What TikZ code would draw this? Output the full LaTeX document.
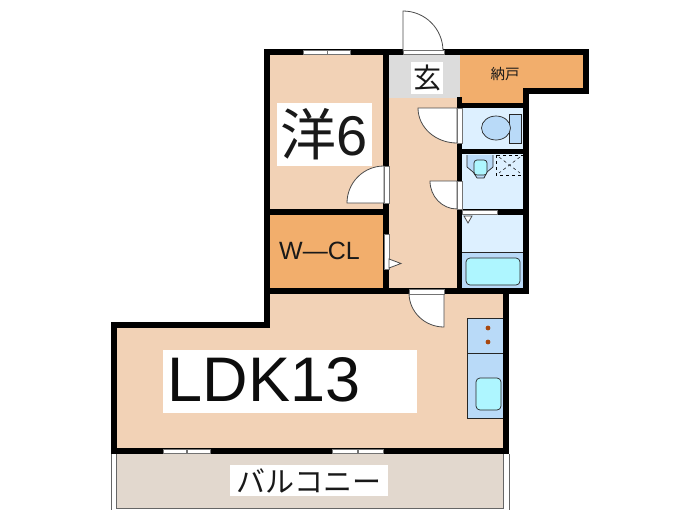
\documentclass[tikz,border=0pt]{standalone}
\usepackage{fontspec}
\setmainfont{Liberation Sans}
\newfontfamily\cjk{Noto Sans CJK JP}
\tikzstyle{wall}=[line width=5.6pt,line cap=rect,line join=miter,black]
\tikzstyle{opening}=[draw=black!55,fill=white,line width=0.7pt]
\tikzstyle{leaf}=[draw=black!70,fill=white,line width=0.8pt]
\tikzstyle{fixture}=[draw=black!85,line width=0.7pt]
\tikzstyle{label}=[fill=white,inner sep=0pt,font=\cjk,text=black!90]
\definecolor{floorc}{HTML}{F2D2B6}
\definecolor{storec}{HTML}{F2AE6C}
\definecolor{entryc}{HTML}{DCDCDC}
\definecolor{wetc}{HTML}{DDF0FF}
\definecolor{unitc}{HTML}{B9DAF8}
\definecolor{waterc}{HTML}{AEF6FF}
\definecolor{balcc}{HTML}{E2D8CE}
\definecolor{hobc}{HTML}{A8480F}
\begin{document}
\begin{tikzpicture}[x=1pt,y=-1pt]
\useasboundingbox (0,0) rectangle (700,525);
% floors
\fill [floorc] (267,52) rectangle (386,212);
\fill [floorc] (386,95) rectangle (460,291);
\fill [floorc] (114,325) rectangle (506,451);
\fill [floorc] (267,291) rectangle (506,325);
\fill [entryc] (386,52) rectangle (460,98);
\fill [storec] (460,52) rectangle (586,91);
\fill [storec] (460,91) rectangle (526,105);
\fill [storec] (267,212) rectangle (386,291);
\fill [wetc] (460,105) rectangle (526,291);
\fill [unitc] (460,252) rectangle (526,291);
\fill [balcc] (116,451) rectangle (503,508);
% balcony rail
\draw [black!60,line width=0.8pt] (116,454) -- (116,508) -- (503,508) -- (503,454);
\draw [black!60,line width=1pt] (111,454) -- (111,510) (509,454) -- (509,510);
% bath
\draw [fixture] (462,252) -- (523,252);
\draw [fixture,fill=waterc,rounded corners=4pt] (466,258) rectangle (520,285);
% toilet
\draw [fixture,fill=unitc] (509,114) rectangle (521,143);
\draw [fixture,fill=unitc] (496,128) ellipse [x radius=14.5,y radius=12];
% basin
\draw [fixture,fill=unitc] (467,155) -- (467,167) -- (473,172) -- (477,178) -- (484,178) -- (487,172) -- (493,167) -- (493,155);
\draw [fixture,fill=waterc,rounded corners=3pt] (474,160) rectangle (487,175);
% washer pan
\draw [black,dashed,line width=0.7pt] (496,155) rectangle (523,175);
\draw [black,dashed,line width=0.5pt] (499,157) -- (520,173) (520,157) -- (499,173);
% kitchen
\draw [fixture,fill=unitc] (467,318) rectangle (504,418);
\draw [fixture] (467,353) -- (504,353);
\draw [fixture,fill=waterc,rounded corners=4pt] (476,378) rectangle (501,410);
\foreach \y in {328,342}
  \fill [hobc] (488,\y) circle [radius=2.4];
% walls
\draw [wall] (267,52) -- (586,52) -- (586,91) -- (526,91) -- (526,291) -- (267,291);
\draw [wall] (267,52) -- (267,325) -- (114,325) -- (114,451) -- (506,451) -- (506,291);
\draw [wall] (386,52) -- (386,291);
\draw [wall] (267,212) -- (386,212);
\draw [wall] (459.5,100) -- (459.5,291);
\draw [wall] (459.5,105.5) -- (526,105.5);
\draw [wall] (459.5,151.5) -- (526,151.5);
\draw [wall] (459.5,212) -- (526,212);
% windows
\foreach \xa/\xb in {303/327,327/350}
  \draw [opening] (\xa,50) rectangle (\xb,54);
\foreach \xa/\xb in {163/186,187/210,332/357,358/383}
  \draw [opening] (\xa,449.5) rectangle (\xb,453);
% doors
\draw [leaf] (403,51) -- (403,11) arc [start angle=-90,end angle=0,radius=40] -- cycle;
\draw [opening] (403,50) rectangle (444,54);
\draw [leaf] (457,108) -- (418,108) arc [start angle=180,end angle=90,x radius=39,y radius=35] -- cycle;
\draw [opening] (457,108) rectangle (462,143);
\draw [leaf] (457,181) -- (430,181) arc [start angle=180,end angle=90,x radius=27,y radius=28] -- cycle;
\draw [opening] (457,181) rectangle (462,209);
\draw [leaf] (444,293) -- (409,293) arc [start angle=180,end angle=90,x radius=35,y radius=34] -- cycle;
\draw [opening] (409,289) rectangle (444,294);
\draw [leaf] (384,203) -- (347,203) arc [start angle=180,end angle=270,radius=37] -- cycle;
\draw [opening] (384,166) rectangle (389,203);
\draw [opening] (384,234) rectangle (389,269);
\draw [leaf] (389,259) -- (401,263.5) -- (389,268) -- cycle;
\draw [opening] (462,210) rectangle (497,214);
\draw [leaf] (464,216) -- (472,216) -- (468,223) -- cycle;
% labels
\node [label,minimum width=95pt,minimum height=63pt,font=\cjk\fontsize{56}{56}\selectfont] (yo) at (324.5,134.5) {洋{\fontspec{Liberation Sans}6}};
\node [label,minimum width=32pt,minimum height=32pt,font=\cjk\fontsize{28}{28}\selectfont] (genkan) at (427,78) {玄};
\node [font=\cjk\fontsize{14.5}{14.5}\selectfont,text=black!90] (nando) at (505,74) {納戸};
\node [font=\fontsize{25}{25}\selectfont,text=black!90] (wcl) at (319.5,251) {W—CL};
\node [label,minimum width=254pt,minimum height=63pt] (ldkbox) at (290,381.5) {};
\node [font=\fontsize{63}{63}\selectfont,text=black!95] (ldk) at (264,380) {LDK13};
\node [label,minimum width=158pt,minimum height=31pt,font=\cjk\fontsize{29}{29}\selectfont] (balcony) at (309,480.5) {バルコニー};
\end{tikzpicture}
\end{document}
